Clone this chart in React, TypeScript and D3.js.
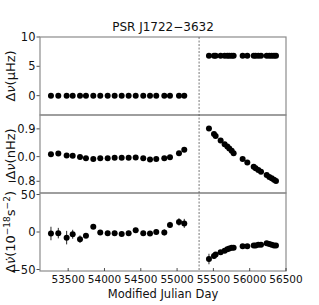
import React from "react";
import * as d3 from "d3";

// MJD of each timing fit, before and after the glitch
const mjdPre = [53263, 53364, 53479, 53562, 53663, 53745, 53846, 53942, 54044, 54140, 54237, 54333, 54430, 54534, 54627, 54713, 54824, 54902, 55026, 55099];
const mjdPost = [55439, 55508, 55531, 55600, 55655, 55692, 55719, 55752, 55779, 55903, 55967, 56055, 56082, 56119, 56156, 56234, 56270, 56303, 56335, 56362];
const glitchMjd = 55303;

// Δν (μHz)
const nuPre = [0, 0, 0, 0, 0, 0, 0, 0, 0, 0, 0, 0, 0, 0, 0, 0, 0, 0, 0, 0];
const nuPost = [6.8, 6.8, 6.8, 6.8, 6.8, 6.8, 6.8, 6.8, 6.8, 6.8, 6.8, 6.8, 6.8, 6.8, 6.8, 6.8, 6.8, 6.8, 6.8, 6.8];

// Δν residual (nHz)
const nuResPre = [0.08, 0.10, 0.04, 0.03, -0.01, -0.05, -0.08, -0.05, -0.05, -0.04, -0.04, -0.04, -0.03, -0.05, -0.09, -0.08, -0.05, -0.02, 0.11, 0.22];
const nuResPost = [0.91, 0.73, 0.67, 0.52, 0.40, 0.33, 0.26, 0.19, 0.11, -0.08, -0.19, -0.33, -0.38, -0.43, -0.49, -0.60, -0.66, -0.70, -0.75, -0.79];

// Δν̇ (1e-18 s^-2) with errors
const nuDotPre = [-2, -1.5, -7.5, -3, -9.5, -5, 7, -0.5, -1.5, -1.5, -2.5, -1.5, 2.5, -1.5, -2, 0, -0.5, 9.5, 13.5, 11.5];
const nuDotPreErr = [9, 7, 9, 6, 5, 3, 3, 3, 3, 3, 3, 3, 3, 3, 3, 3, 4, 4, 5, 6];
const nuDotPost = [-36, -32, -30, -27, -25, -23, -22, -21, -21, -19, -19, -18, -18, -17, -17, -15, -16, -17, -18, -18];
const nuDotPostErr = [7, 4, 3, 3, 3, 2, 2, 2, 2, 2, 2, 2, 2, 2, 2, 2, 2, 2, 2, 2];

const xTicks = [53500, 54000, 54500, 55000, 55500, 56000, 56500];

const W = 319;
const H = 305;
const left = 40;
const right = 286;
const top = 37;
const panelH = 78;
const font = "DejaVu Sans, sans-serif";
const spine = "#8c8c8c";

const x = d3.scaleLinear().domain([53112, 56500]).range([left, right]);

const panels = [
    { domain: [-3.3, 10], ticks: [0, 5, 10], fmt: (d: number) => String(d), pre: nuPre, post: nuPost },
    { domain: [-1.18, 1.35], ticks: [-0.8, 0.0, 0.9], fmt: (d: number) => d3.format(".1f")(d).replace("-", "\u2212"), pre: nuResPre, post: nuResPost },
    { domain: [-52, 52], ticks: [-50, 0, 50], fmt: (d: number) => d3.format("d")(d).replace("-", "\u2212"), pre: nuDotPre, post: nuDotPost, preErr: nuDotPreErr, postErr: nuDotPostErr },
];

const Panel = ({ p, i }: { p: any; i: number }) => {
    const y0 = top + i * panelH;
    const y = d3.scaleLinear().domain(p.domain).range([y0 + panelH, y0]);
    const mjd = [...mjdPre, ...mjdPost];
    const vals = [...p.pre, ...p.post];
    const errs = p.preErr ? [...p.preErr, ...p.postErr] : null;
    return (
        <g>
            {p.ticks.map((t: number) => (
                <g key={t}>
                    <line x1={left - 3.5} x2={left} y1={y(t)} y2={y(t)} stroke="#222" strokeWidth={0.8} />
                    <text x={left - 4.5} y={y(t)} dy="0.36em" textAnchor="end" fontSize={11.5} fill="#111" fontFamily={font}>{p.fmt(t)}</text>
                </g>
            ))}
            {errs && mjd.map((m, k) => (
                <line key={"e" + k} x1={x(m)} x2={x(m)} y1={y(vals[k] - errs[k])} y2={y(vals[k] + errs[k])} stroke="#111" strokeWidth={0.9} />
            ))}
            {mjd.map((m, k) => (
                <circle key={k} cx={x(m)} cy={y(vals[k])} r={3} fill="#000" />
            ))}
            <rect x={left} y={y0} width={right - left} height={panelH} fill="none" stroke={spine} strokeWidth={1.2} />
        </g>
    );
};

export default function App() {
    const bottom = top + 3 * panelH;
    return (
        <div style={{ position: "absolute", left: 0, top: 0 }}>
            <svg width={W} height={H} style={{ display: "block", background: "#fff" }}>
                <text x={(left + right) / 2} y={31} textAnchor="middle" fontSize={12} fill="#111" fontFamily={font}>PSR J1722{"\u2212"}3632</text>
                {panels.map((p, i) => <Panel key={i} p={p} i={i} />)}
                <line x1={x(glitchMjd)} x2={x(glitchMjd)} y1={top} y2={bottom} stroke="#555" strokeWidth={0.8} strokeDasharray="2,1.5" />
                {xTicks.map(t => (
                    <g key={t}>
                        <line x1={x(t)} x2={x(t)} y1={bottom} y2={bottom - 3} stroke="#222" strokeWidth={0.8} />
                        <text x={x(t)} y={bottom + 12} textAnchor="middle" fontSize={10.5} fill="#111" fontFamily={font}>{t}</text>
                    </g>
                ))}
                <text x={(left + right) / 2} y={298} textAnchor="middle" fontSize={11.5} fill="#111" fontFamily={font}>Modified Julian Day</text>
                <text transform={`translate(15,${top + panelH / 2}) rotate(-90)`} textAnchor="middle" fontSize={13} fill="#111" fontFamily={font}>
                    Δ<tspan fontStyle="italic">ν</tspan>(μHz)
                </text>
                <text transform={`translate(15,${top + panelH * 1.5}) rotate(-90)`} textAnchor="middle" fontSize={13} fill="#111" fontFamily={font}>
                    Δ<tspan fontStyle="italic">ν</tspan>(nHz)
                </text>
                <text transform={`translate(15,${top + panelH * 2.5}) rotate(-90)`} textAnchor="middle" fontSize={13} fill="#111" fontFamily={font}>
                    Δ<tspan fontStyle="italic">ν̇</tspan>(10<tspan fontSize={9} dy={-5}>{"\u2212"}18</tspan><tspan dy={5}>s</tspan><tspan fontSize={9} dy={-5}>{"\u2212"}2</tspan><tspan dy={5}>)</tspan>
                </text>
            </svg>
        </div>
    );
}
